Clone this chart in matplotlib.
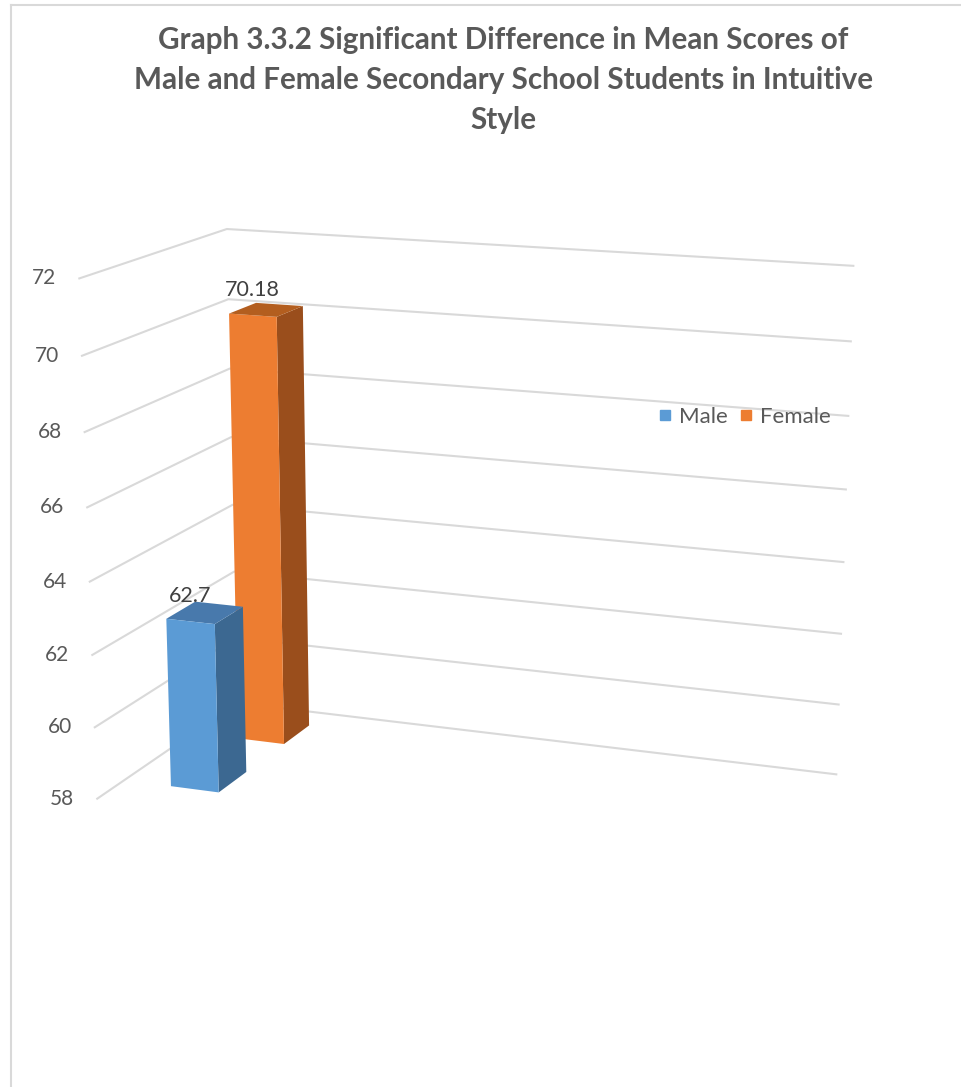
import numpy as np
import matplotlib
matplotlib.use('Agg')
import matplotlib.pyplot as plt
import matplotlib.transforms as mtransforms
from matplotlib.lines import Line2D
from mpl_toolkits.mplot3d import proj3d
from mpl_toolkits.mplot3d.art3d import Poly3DCollection

# data
series = ['Male', 'Female']
values = [62.7, 70.18]
value_labels = ['62.7', '70.18']
ticks = [58, 60, 62, 64, 66, 68, 70, 72]
title = ('Graph 3.3.2 Significant Difference in Mean Scores of\n'
         'Male and Female Secondary School Students in Intuitive\n'
         'Style')

# colours (front, right side, top)
front_colors = ['#5B9BD5', '#ED7D31']
side_colors = ['#3C6891', '#9A4E1C']
top_colors = ['#4879AC', '#B35E1F']
grey = '#595959'
grid = '#D9D9D9'

plt.rcParams['font.family'] = ['Lato', 'DejaVu Sans']

# 3d box: x = category width, y = depth (series rows), z = value
x_len, y_len = 19, 9.3
z_aspect = 14.8
bar_x = 1.48
bar_w = 1.5
bar_d = 1.86
row_y = [1.67, 6.2]

fig = plt.figure(figsize=(9.61, 10.87), dpi=100)
ax = fig.add_axes([0.0094, 0.0825, 0.9365, 0.828], projection='3d')
ax.set_proj_type('persp', focal_length=0.6)
ax.view_init(elev=14.7, azim=-69.5)
ax.set_box_aspect((x_len, y_len, z_aspect), zoom=1.0)
ax.set_axis_off()
ax.computed_zorder = False

# walls: side wall + back wall gridlines
for t in ticks:
    ax.plot([0, 0, x_len], [0, y_len, y_len], [t, t, t], color=grid, lw=1.5, zorder=1)

# bars, back row first
for i in [1, 0]:
    v = values[i]
    x0, x1 = bar_x, bar_x + bar_w
    y0 = row_y[i]
    y1 = y0 + bar_d
    z0 = ticks[0]
    front = [(x0, y0, z0), (x1, y0, z0), (x1, y0, v), (x0, y0, v)]
    side = [(x1, y0, z0), (x1, y1, z0), (x1, y1, v), (x1, y0, v)]
    top = [(x0, y0, v), (x1, y0, v), (x1, y1, v), (x0, y1, v)]
    pc = Poly3DCollection([front, side, top],
                          facecolors=[front_colors[i], side_colors[i], top_colors[i]],
                          edgecolors='none', zorder=3 - i)
    ax.add_collection3d(pc)

ax.set_xlim(0, x_len)
ax.set_ylim(0, y_len)
ax.set_zlim(ticks[0], ticks[-1])

# texts are placed in 2d at the projected 3d anchor points
M = ax.get_proj()
def to2d(x, y, z):
    xs, ys, _ = proj3d.proj_transform(np.atleast_1d(x), np.atleast_1d(y), np.atleast_1d(z), M)
    return xs[0], ys[0]

px = fig.dpi_scale_trans
off_left = ax.transData + mtransforms.ScaledTranslation(-23 / 100, 0, px)
off_up = ax.transData + mtransforms.ScaledTranslation(0, 15 / 100, px)

for t in ticks:
    x2, y2 = to2d(0, 0, t)
    ax.text2D(x2, y2, str(t), ha='right', va='center', fontsize=15,
              color=grey, transform=off_left, zorder=5)

for i, v in enumerate(values):
    x2, y2 = to2d(bar_x + bar_w / 2, row_y[i], v)
    ax.text2D(x2, y2, value_labels[i], ha='center', va='bottom', fontsize=15.5,
              color='#404040', transform=off_up, zorder=6)

handles = [Line2D([], [], ls='none', marker='s', ms=7.2, mfc=c, mec=c) for c in front_colors]
fig.legend(handles, series, loc='center left', bbox_to_anchor=(657 / 961, 1 - 417 / 1087),
           ncol=2, frameon=False, fontsize=16, labelcolor=grey, handlelength=0.7,
           handletextpad=0.3, columnspacing=0.45, borderpad=0, borderaxespad=0)

fig.text(503 / 961, 1 - 80 / 1087, title, ha='center', va='center', ma='center',
         fontsize=21.3, fontweight='bold', color=grey, linespacing=1.5)

# chart frame (left and top edges visible)
fig.add_artist(Line2D([11 / 961, 11 / 961], [0, 1 - 5 / 1087], transform=fig.transFigure,
                      color=grid, lw=1.5))
fig.add_artist(Line2D([11 / 961, 1], [1 - 5 / 1087, 1 - 5 / 1087], transform=fig.transFigure,
                      color=grid, lw=1.5))

fig.savefig('out.png', dpi=100)
